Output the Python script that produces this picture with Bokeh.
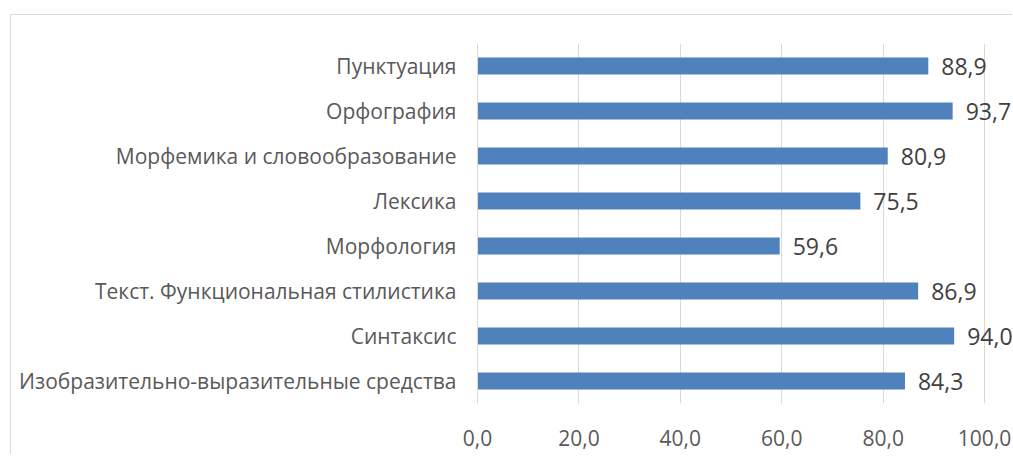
from bokeh.plotting import figure
from bokeh.models import ColumnDataSource, Range1d, FactorRange, FixedTicker, LabelSet
from bokeh.core.properties import value
from bokeh.embed import file_html
from bokeh.resources import INLINE

categories = [
    "Пунктуация",
    "Орфография",
    "Морфемика и словообразование",
    "Лексика",
    "Морфология",
    "Текст. Функциональная стилистика",
    "Синтаксис",
    "Изобразительно-выразительные средства",
]
values = [88.9, 93.7, 80.9, 75.5, 59.6, 86.9, 94.0, 84.3]
tick_values = [0, 20, 40, 60, 80, 100]
tick_labels = ["0,0", "20,0", "40,0", "60,0", "80,0", "100,0"]

FONT = "Open Sans"

src = ColumnDataSource(dict(
    cat=categories,
    val=values,
    lab=[f"{v:.1f}".replace(".", ",") for v in values],
))

p = figure(
    width=1002, height=440,
    y_range=FactorRange(factors=list(reversed(categories))),
    x_range=Range1d(0, 105.7),
    output_backend="svg", toolbar_location=None,
    min_border_left=466, min_border_top=28, min_border_right=0, min_border_bottom=52,
)
p.margin = (14, 0, 0, 10)
p.styles = {"border-top": "1px solid #d9d9d9", "border-left": "1px solid #d9d9d9"}

p.hbar(y="cat", right="val", left=0, height=0.38, source=src,
       fill_color="#4F81BD", line_color=None)

p.add_layout(LabelSet(x="val", y="cat", text="lab", source=src, x_offset=13,
                      text_baseline="middle", text_align="left",
                      text_font=value(FONT), text_font_size="23px", text_color="#404040"))

p.outline_line_color = None
p.ygrid.grid_line_color = None
p.xgrid.grid_line_color = "#d9d9d9"
p.xgrid.ticker = FixedTicker(ticks=tick_values)

p.xaxis.ticker = FixedTicker(ticks=tick_values)
p.xaxis.major_label_overrides = dict(zip(tick_values, tick_labels))
p.xaxis.axis_line_color = None
p.xaxis.major_tick_line_color = None
p.xaxis.minor_tick_line_color = None
p.xaxis.major_label_standoff = 20
p.xaxis.major_label_text_font = FONT
p.xaxis.major_label_text_font_size = "21px"
p.xaxis.major_label_text_color = "#595959"

p.yaxis.axis_line_color = "#d9d9d9"
p.yaxis.major_tick_line_color = None
p.yaxis.minor_tick_line_color = None
p.yaxis.major_label_standoff = 15
p.yaxis.major_label_text_font = FONT
p.yaxis.major_label_text_font_size = "21px"
p.yaxis.major_label_text_color = "#595959"

open("out.html", "w").write(file_html(p, INLINE))
